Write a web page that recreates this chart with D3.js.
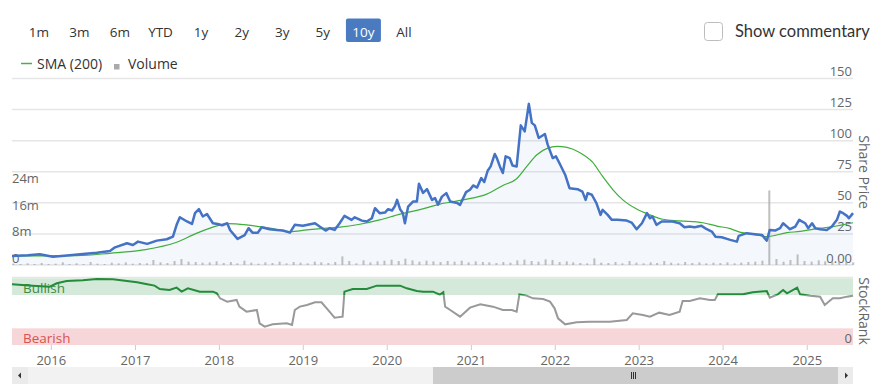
<!DOCTYPE html>
<html><head><meta charset="utf-8">
<script src="https://cdn.jsdelivr.net/npm/d3@7"></script>
<style>
html,body{margin:0;padding:0;background:#fff;}
svg{display:block;font-family:"Open Sans",sans-serif;}
</style></head>
<body><svg id="c" width="882" height="386"></svg>
<script>
// ---------- DATA ----------
const rangeButtons = ["1m","3m","6m","YTD","1y","2y","3y","5y","10y","All"];
const activeButton = "10y";

const priceDates = ["2015-07-14","2015-08-04","2015-09-21","2015-11-12","2016-01-08","2016-03-21","2016-05-17","2016-07-17","2016-09-12","2016-10-04","2016-11-25","2016-12-21","2017-01-12","2017-02-21","2017-04-04","2017-05-17","2017-06-13","2017-06-29","2017-07-13","2017-08-13","2017-09-04","2017-09-17","2017-10-04","2017-10-21","2017-11-08","2017-12-04","2017-12-25","2018-01-13","2018-02-04","2018-02-17","2018-03-21","2018-04-21","2018-05-08","2018-05-25","2018-06-17","2018-07-04","2018-08-08","2018-09-08","2018-10-04","2018-11-04","2018-11-25","2018-12-30","2019-02-21","2019-03-13","2019-04-08","2019-04-25","2019-05-17","2019-06-08","2019-06-29","2019-07-30","2019-08-13","2019-09-13","2019-10-04","2019-10-26","2019-11-09","2019-11-29","2019-12-22","2020-01-05","2020-01-22","2020-02-04","2020-02-13","2020-02-26","2020-03-09","2020-03-18","2020-04-01","2020-04-22","2020-05-09","2020-05-18","2020-06-05","2020-06-22","2020-07-14","2020-07-27","2020-08-09","2020-08-26","2020-09-14","2020-10-01","2020-11-01","2020-11-13","2020-12-09","2020-12-26","2021-01-09","2021-01-26","2021-02-13","2021-02-26","2021-03-13","2021-03-26","2021-04-13","2021-04-22","2021-05-05","2021-05-18","2021-05-30","2021-06-17","2021-06-29","2021-07-17","2021-08-04","2021-08-21","2021-09-08","2021-09-21","2021-10-04","2021-10-21","2021-11-17","2021-11-29","2021-12-21","2022-01-04","2022-01-21","2022-02-13","2022-03-04","2022-04-08","2022-04-29","2022-05-13","2022-05-22","2022-06-09","2022-06-29","2022-07-17","2022-07-26","2022-08-17","2022-09-04","2022-09-29","2022-11-08","2022-11-29","2022-12-21","2023-01-13","2023-02-04","2023-02-17","2023-02-28","2023-03-17","2023-04-09","2023-04-29","2023-05-26","2023-06-26","2023-07-17","2023-08-09","2023-08-30","2023-09-29","2023-10-22","2023-11-13","2023-11-29","2023-12-26","2024-01-18","2024-02-01","2024-03-01","2024-03-09","2024-04-13","2024-05-09","2024-06-18","2024-07-09","2024-07-22","2024-08-14","2024-09-05","2024-09-18","2024-10-05","2024-10-18","2024-11-10","2024-11-27","2024-12-23","2025-01-05","2025-01-22","2025-02-05","2025-02-26","2025-03-27","2025-04-18","2025-05-10","2025-05-23","2025-06-06","2025-06-23","2025-07-01","2025-07-19"];
const priceValues = [7.3,7.5,7.8,8.6,6.7,7.9,8.9,9.9,11.3,14.2,17.5,16.1,18.8,17,19.6,20.7,22.8,32.3,38.4,35,33,41.7,44.9,39,41,33.6,33,32,33.6,28,21,24,29.6,26,26,30.4,28.8,28.2,27.7,26,32.3,31.5,33.6,30.9,27.7,29.6,28.2,33.6,39.5,36.3,38.4,35.7,35,37.6,45.7,41.7,42.2,44.9,43.8,47.6,52.4,44.9,41.7,33.6,47,51,51,65.3,58,61,52.4,53.8,48.4,55,57.8,51,49.8,48.4,58.6,60.5,64,62.3,69.9,66.7,75.8,79.3,89.3,86,79.3,74,87.4,86,80,79.3,112.3,107.5,129.6,114.3,112.3,102.2,105.4,96.8,86,87.4,81.2,72.6,61.8,61,59,52.4,57.8,56.5,49.8,40.3,44.4,40.3,36.3,36.3,35.7,34.1,28.8,33.6,41.7,37.6,39,32.3,35,35,35,33.6,30.4,30.9,30.4,31.5,28.8,26.9,22.8,22.3,21,20.2,18.8,23.4,25.6,25,24.2,19.6,28.2,27.7,29.6,33.6,30.9,28.8,30.9,36.3,33.6,29.6,33.6,29.6,28.8,28.2,30.9,36.3,43,41.7,39.5,37.6,41.7];

const smaDates = ["2015-07-14","2016-04-20","2016-09-12","2017-02-04","2017-06-29","2017-09-25","2017-12-21","2018-02-04","2018-04-29","2018-08-08","2018-11-04","2019-01-17","2019-04-13","2019-06-09","2019-09-04","2019-11-29","2020-02-26","2020-05-22","2020-08-17","2020-11-26","2021-03-09","2021-05-18","2021-07-17","2021-08-30","2021-10-13","2021-11-29","2022-01-09","2022-02-21","2022-04-17","2022-06-13","2022-07-26","2022-09-09","2022-10-22","2022-12-21","2023-02-17","2023-04-13","2023-06-26","2023-10-05","2023-12-05","2024-02-01","2024-03-13","2024-05-18","2024-07-09","2024-10-05","2024-12-01","2025-02-26","2025-04-22","2025-07-19"];
const smaValues = [7.3,7.5,9.4,12.1,18.3,25.6,31.5,33.3,32.3,29.6,26.9,28.2,29.6,30.4,32.8,36.3,40.9,44.5,49,52.4,57,64,69.4,79.3,88.7,94,95.4,94.6,90.5,82.5,71.2,60.5,52.4,45,40.3,36.8,35.5,34,31.3,29.2,26.4,24.5,22.8,26,27,29.6,30.9,34];

const volumeMonths = ["2015-07","2015-08","2015-09","2015-10","2015-11","2015-12",
"2016-01","2016-02","2016-03","2016-04","2016-05","2016-06","2016-07","2016-08","2016-09","2016-10","2016-11","2016-12",
"2017-01","2017-02","2017-03","2017-04","2017-05","2017-06","2017-07","2017-08","2017-09","2017-10","2017-11","2017-12",
"2018-01","2018-02","2018-03","2018-04","2018-05","2018-06","2018-07","2018-08","2018-09","2018-10","2018-11","2018-12",
"2019-01","2019-02","2019-03","2019-04","2019-05","2019-06","2019-07","2019-08","2019-09","2019-10","2019-11","2019-12",
"2020-01","2020-02","2020-03","2020-04","2020-05","2020-06","2020-07","2020-08","2020-09","2020-10","2020-11","2020-12",
"2021-01","2021-02","2021-03","2021-04","2021-05","2021-06","2021-07","2021-08","2021-09","2021-10","2021-11","2021-12",
"2022-01","2022-02","2022-03","2022-04","2022-05","2022-06","2022-07","2022-08","2022-09","2022-10","2022-11","2022-12",
"2023-01","2023-02","2023-03","2023-04","2023-05","2023-06","2023-07","2023-08","2023-09","2023-10","2023-11","2023-12",
"2024-01","2024-02","2024-03","2024-04","2024-05","2024-06","2024-07","2024-08","2024-09","2024-10","2024-11","2024-12",
"2025-01","2025-02","2025-03","2025-04","2025-05","2025-06","2025-07"];
const volumeValues = [0.4,0.3,0.5,0.3,0.6,0.3,
0.4,0.8,0.3,0.5,0.3,0.9,0.4,0.3,0.7,0.5,0.8,0.4,
0.6,0.5,1.5,0.8,0.6,1.2,1.8,1.0,0.9,0.7,0.8,1.1,
0.6,0.9,0.5,1.3,0.7,0.4,0.8,0.6,1.0,0.5,0.9,0.7,
0.5,1.0,0.8,0.6,0.9,2.6,1.2,0.5,1.4,0.8,1.1,1.3,
1.6,1.2,1.9,1.4,1.0,1.3,1.1,0.9,1.2,1.0,1.3,0.8,
1.1,0.9,0.8,0.6,0.9,0.7,1.4,1.6,1.2,1.0,1.7,1.5,
0.9,1.1,0.8,0.6,0.5,2.0,0.7,0.6,0.9,0.5,1.2,0.7,
0.5,0.8,0.6,1.2,0.7,0.5,0.9,0.6,0.8,0.5,0.7,0.6,
0.8,0.5,0.7,0.9,1.0,1.3,22.5,1.8,1.0,1.5,3.2,1.2,
1.0,1.4,1.1,0.9,1.2,1.0,0.8];

const rankDates = ["2015-07-14","2015-10-12","2015-12-25","2016-01-25","2016-03-08","2016-05-17","2016-07-17","2016-09-25","2016-11-25","2017-01-08","2017-02-21","2017-03-25","2017-04-17","2017-05-29","2017-06-29","2017-07-21","2017-08-17","2017-10-08","2017-12-04","2017-12-21","2018-01-04","2018-02-04","2018-03-17","2018-03-29","2018-04-29","2018-06-13","2018-06-25","2018-07-17","2018-08-21","2018-10-21","2018-11-13","2018-11-25","2018-12-17","2019-01-17","2019-02-21","2019-03-21","2019-04-25","2019-05-17","2019-06-21","2019-06-29","2019-08-04","2019-10-04","2019-11-17","2019-12-29","2020-02-26","2020-03-26","2020-05-09","2020-06-05","2020-07-18","2020-08-17","2020-09-01","2020-09-09","2020-10-01","2020-11-13","2020-12-26","2021-02-09","2021-04-05","2021-05-18","2021-06-26","2021-07-17","2021-07-29","2021-08-29","2021-09-26","2021-11-09","2021-12-09","2021-12-29","2022-01-13","2022-02-13","2022-04-04","2022-05-29","2022-08-26","2022-11-08","2022-12-04","2023-01-17","2023-02-17","2023-03-29","2023-05-13","2023-06-26","2023-07-09","2023-08-09","2023-09-22","2023-11-05","2023-11-26","2023-12-09","2024-02-01","2024-03-27","2024-05-09","2024-07-09","2024-07-22","2024-08-26","2024-09-18","2024-10-05","2024-11-18","2024-12-01","2025-01-14","2025-02-26","2025-03-18","2025-04-22","2025-05-23","2025-06-23","2025-07-19"];
const rankValues = [91,89,87.5,92.5,96,97,99,98.5,96,94,91,89,84,82.5,86,80,85,80,80,77.5,70,65,67.5,57.5,50,52.5,32.5,27.5,31,32.5,30,52.5,57.5,60,64,64,50,41,42.5,80,84,84,89,89,89,85,81,80,80,75.5,79,57.5,52.5,42.5,56,61,57.5,52.5,52.5,50,76,74,70,69,65,55,40,31,34,35,35,37.5,47.5,45,42.5,48.5,45,50,66,66,70,67.5,67.5,76,76,76,79,81,71,76,82.5,77.5,86,76,74,72.5,60,70,70,72.5,74];

const priceTicks = [0,25,50,75,100,125,150];
const priceTickLabels = ["0.00","25","50","75","100","125","150"];
const volumeTicks = [0,8,16,24];
const volumeTickLabels = ["0","8m","16m","24m"];
const yearTicks = ["2016","2017","2018","2019","2020","2021","2022","2023","2024","2025"];
const rankBands = [{label:"Bullish", from:75, to:100}, {label:"Bearish", from:0, to:25}];

// ---------- CHART ----------
const svg = d3.select("#c");
const parse = d3.timeParse("%Y-%m-%d");
const parseM = d3.timeParse("%Y-%m");
const L = 12, R = 853;

const x = d3.scaleTime().domain([parse("2015-07-14"), parse("2025-07-19")]).range([L, R]);
const yP = d3.scaleLinear().domain([0,150]).range([265, 78.5]);
const yV = d3.scaleLinear().domain([0,24]).range([265, 185.5]);
const yR = d3.scaleLinear().domain([0,100]).range([345, 278.3]);

svg.append("rect").attr("width",882).attr("height",386).attr("fill","#fff");

// range buttons
const bx = d3.scalePoint().domain(rangeButtons).range([38.8, 404]);
rangeButtons.forEach(b => {
  const cx = bx(b);
  if (b === activeButton) {
    svg.append("rect").attr("x", cx-17.5).attr("y",18.5).attr("width",35).attr("height",23.5)
      .attr("rx",2).attr("fill","#4a7bc1");
  }
  svg.append("text").attr("x",cx).attr("y",36.5).attr("text-anchor","middle")
    .attr("font-size",13.5).attr("fill", b===activeButton?"#fff":"#333").text(b);
});

// show commentary
svg.append("rect").attr("x",704.5).attr("y",22.5).attr("width",18).attr("height",18).attr("rx",3)
  .attr("fill","#fff").attr("stroke","#bdbdbd");
svg.append("text").attr("x",735).attr("y",37).attr("font-family","Lato").attr("font-size",16.5)
  .attr("fill","#333").text("Show commentary");

// legend
svg.append("line").attr("x1",21).attr("x2",32).attr("y1",63.5).attr("y2",63.5).attr("stroke","#4cae4c").attr("stroke-width",1.5);
svg.append("text").attr("x",37).attr("y",68.5).attr("font-size",14).attr("fill","#333").text("SMA (200)");
svg.append("rect").attr("x",114).attr("y",64).attr("width",5.5).attr("height",5.5).attr("fill","#aaa");
svg.append("text").attr("x",128).attr("y",68.5).attr("font-size",14).attr("fill","#333").text("Volume");

// gridlines
svg.append("g").selectAll("line").data(priceTicks).join("line")
  .attr("x1",L).attr("x2",R).attr("y1",d=>yP(d)).attr("y2",d=>yP(d))
  .attr("stroke","#e6e6e6").attr("stroke-width",1.5);

// price labels
svg.append("g").selectAll("text").data(priceTicks).join("text")
  .attr("x",852).attr("y",d=>yP(d)-2.5).attr("text-anchor","end")
  .attr("font-size",13).attr("fill","#666").text((d,i)=>priceTickLabels[i]);
// volume labels
svg.append("g").selectAll("text").data(volumeTicks).join("text")
  .attr("x",L).attr("y",d=>yV(d)-2.5).attr("text-anchor","start")
  .attr("font-size",13).attr("fill","#666").text((d,i)=>volumeTickLabels[i]);

// area + lines
const priceData = priceDates.map((d,i)=>({d:parse(d), v:priceValues[i]}));
const smaData = smaDates.map((d,i)=>({d:parse(d), v:smaValues[i]}));
svg.append("path").datum(priceData)
  .attr("d", d3.area().x(p=>x(p.d)).y0(yP(0)).y1(p=>yP(p.v)))
  .attr("fill","#4472c4").attr("fill-opacity",0.06);

// volume bars
const volData = volumeMonths.map((m,i)=>({d:d3.timeDay.offset(parseM(m),19), v:volumeValues[i]}));
svg.append("g").selectAll("rect").data(volData).join("rect")
  .attr("x",p=>x(p.d)-1).attr("width",2)
  .attr("y",p=>yV(p.v)).attr("height",p=>yV(0)-yV(p.v))
  .attr("fill","#aaa").attr("fill-opacity",0.75);

svg.append("path").datum(smaData)
  .attr("d", d3.line().x(p=>x(p.d)).y(p=>yP(p.v)).curve(d3.curveMonotoneX))
  .attr("fill","none").attr("stroke","#3fae3a").attr("stroke-width",1.2);
svg.append("path").datum(priceData)
  .attr("d", d3.line().x(p=>x(p.d)).y(p=>yP(p.v)))
  .attr("fill","none").attr("stroke","#4472c4").attr("stroke-width",2.5).attr("stroke-linejoin","round");

// stockrank panel
svg.append("line").attr("x1",L).attr("x2",R).attr("y1",277.5).attr("y2",277.5).attr("stroke","#e6e6e6").attr("stroke-width",1.5);
const bandColors = {Bullish:"#d4e9da", Bearish:"#f6d6d9"};
const bandText = {Bullish:"#3d8c40", Bearish:"#d9534f"};
rankBands.forEach(b=>{
  svg.append("rect").attr("x",L).attr("width",R-L).attr("y",yR(b.to)).attr("height",yR(b.from)-yR(b.to))
    .attr("fill",bandColors[b.label]);
  svg.append("text").attr("x",23).attr("y",yR(b.from)-2).attr("font-size",13.5)
    .attr("fill",bandText[b.label]).text(b.label);
});
svg.append("text").attr("x",852).attr("y",yR(0)-2).attr("text-anchor","end").attr("font-size",13).attr("fill","#666").text("0");

const defs = svg.append("defs");
defs.append("clipPath").attr("id","clipG").append("rect").attr("x",0).attr("y",0).attr("width",882).attr("height",yR(75));
defs.append("clipPath").attr("id","clipN").append("rect").attr("x",0).attr("y",yR(75)).attr("width",882).attr("height",386);
const rankData = rankDates.map((d,i)=>({d:parse(d), v:rankValues[i]}));
const rl = d3.line().x(p=>x(p.d)).y(p=>yR(p.v));
svg.append("path").datum(rankData).attr("d",rl).attr("fill","none").attr("stroke","#999").attr("stroke-width",2).attr("clip-path","url(#clipN)");
svg.append("path").datum(rankData).attr("d",rl).attr("fill","none").attr("stroke","#238b3a").attr("stroke-width",2).attr("clip-path","url(#clipG)");

// x axis
const yearDates = yearTicks.map(y=>parse(y+"-01-01"));
svg.append("g").selectAll("line").data(yearDates).join("line")
  .attr("x1",d=>x(d)).attr("x2",d=>x(d)).attr("y1",345).attr("y2",350).attr("stroke","#ccc");
svg.append("g").selectAll("text").data(yearDates).join("text")
  .attr("x",d=>x(d)).attr("y",365).attr("text-anchor","middle").attr("font-size",13).attr("fill","#666")
  .text((d,i)=>yearTicks[i]);

// axis titles
svg.append("text").attr("transform","translate(859,172) rotate(90)").attr("text-anchor","middle")
  .attr("font-size",14).attr("fill","#666").text("Share Price");
svg.append("text").attr("transform","translate(859,311) rotate(90)").attr("text-anchor","middle")
  .attr("font-size",14).attr("fill","#666").text("StockRank");

// scrollbar
svg.append("rect").attr("x",L).attr("y",367).attr("width",R-L).attr("height",17).attr("fill","#f2f2f2");
svg.append("rect").attr("x",433).attr("y",367).attr("width",405).attr("height",17).attr("fill","#cccccc");
svg.append("rect").attr("x",L).attr("y",367).attr("width",16).attr("height",17).attr("fill","#ebebeb");
svg.append("rect").attr("x",838).attr("y",367).attr("width",15).attr("height",17).attr("fill","#ebebeb");
svg.append("path").attr("d","M18,375.5 L21,372.5 L21,378.5 Z").attr("fill","#333");
svg.append("path").attr("d","M848,375.5 L845,372.5 L845,378.5 Z").attr("fill","#333");
[-2,0,2].forEach(o=>svg.append("line").attr("x1",633.5+o).attr("x2",633.5+o).attr("y1",372).attr("y2",379).attr("stroke","#333").attr("stroke-width",1));
</script></body></html>
